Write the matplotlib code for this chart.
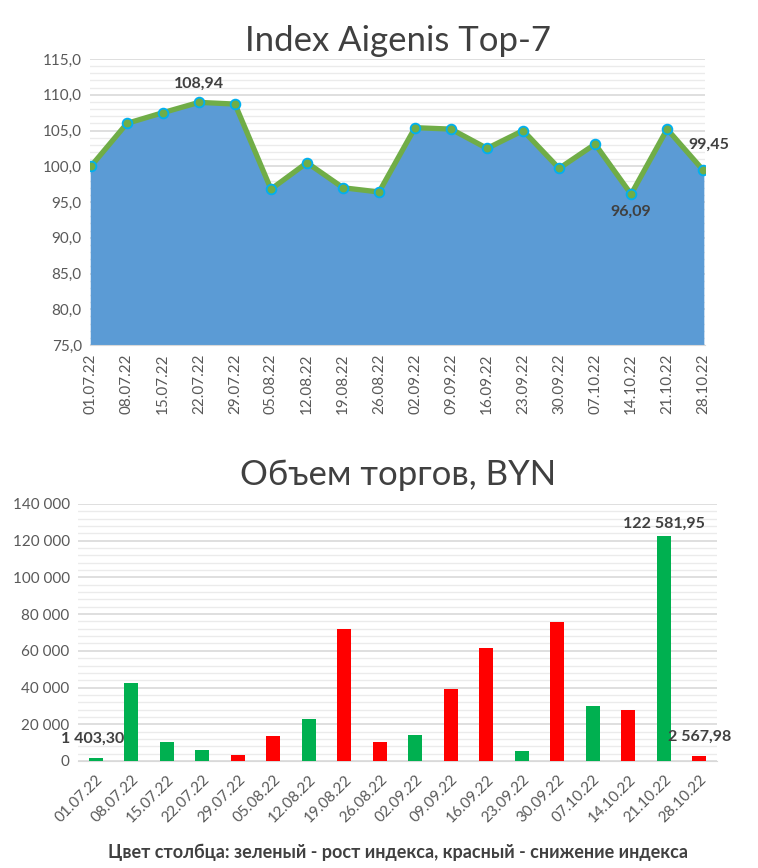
import matplotlib.pyplot as plt
from matplotlib.ticker import MultipleLocator, FuncFormatter

plt.rcParams['font.family'] = ['Lato', 'Open Sans', 'DejaVu Sans']

# Данные
dates = ['01.07.22', '08.07.22', '15.07.22', '22.07.22', '29.07.22', '05.08.22',
         '12.08.22', '19.08.22', '26.08.22', '02.09.22', '09.09.22', '16.09.22',
         '23.09.22', '30.09.22', '07.10.22', '14.10.22', '21.10.22', '28.10.22']
index_vals = [100.0, 106.0, 107.5, 108.94, 108.7, 96.8, 100.5, 97.0, 96.4,
              105.4, 105.2, 102.5, 105.0, 99.7, 103.1, 96.09, 105.2, 99.45]
volume = [1403.30, 42600, 10500, 6000, 3300, 13600, 22900, 72000, 10200,
          14200, 39100, 61300, 5500, 75700, 30200, 27700, 122581.95, 2567.98]
up = [1, 1, 1, 1, 0, 0, 1, 0, 0, 1, 0, 0, 1, 0, 1, 0, 1, 0]

tick_col = '#595959'
lab_col = '#404040'
x = list(range(len(dates)))

fig = plt.figure(figsize=(7.58, 8.68), dpi=100)

# Index chart
ax1 = fig.add_axes([0.119, 0.6025, 0.811, 0.3295])
ax1.fill_between(x, index_vals, 75, color='#5B9BD5', zorder=2)
ax1.plot(x, index_vals, color='#70AD47', lw=3.8, marker='o', ms=7,
         mfc='#70AD47', mec='#00B0F0', mew=1.3, zorder=3)
ax1.set_ylim(75, 115)
ax1.set_xlim(-0.02, 17.05)
ax1.yaxis.set_major_locator(MultipleLocator(5))
ax1.yaxis.set_minor_locator(MultipleLocator(1))
ax1.yaxis.set_major_formatter(FuncFormatter(lambda v, p: f'{v:.1f}'.replace('.', ',')))
ax1.grid(axis='y', which='major', color='#D9D9D9', lw=1.2, zorder=0)
ax1.grid(axis='y', which='minor', color='#EBEBEB', lw=1.0, zorder=0)
ax1.set_xticks(x)
ax1.set_xticklabels(dates, rotation=90, fontsize=11, color=tick_col)
ax1.tick_params(axis='y', labelsize=11, colors=tick_col, length=0, pad=6)
ax1.tick_params(axis='y', which='minor', length=0)
ax1.tick_params(axis='x', length=0, pad=6)
for s in ['top', 'right', 'left']:
    ax1.spines[s].set_visible(False)
ax1.spines['bottom'].set_color('#D9D9D9')
ax1.set_title('Index Aigenis Top-7', fontsize=25, color='#404040', pad=6)

ax1.text(3, 110.6, '108,94', ha='center', va='bottom', fontsize=11.5,
         fontweight='bold', color=lab_col)
ax1.text(15, 94.6, '96,09', ha='center', va='top', fontsize=11.5,
         fontweight='bold', color=lab_col)
ax1.text(17.15, 102.0, '99,45', ha='center', va='bottom', fontsize=11.5,
         fontweight='bold', color=lab_col)

# Volume chart
ax2 = fig.add_axes([0.103, 0.1233, 0.843, 0.2961])
colors = ['#00B050' if u else '#FF0000' for u in up]
ax2.bar(x, volume, width=0.4, color=colors, zorder=3)
ax2.set_ylim(0, 140000)
ax2.set_xlim(-0.5, 17.5)
ax2.yaxis.set_major_locator(MultipleLocator(20000))
ax2.yaxis.set_minor_locator(MultipleLocator(4000))
ax2.yaxis.set_major_formatter(FuncFormatter(lambda v, p: f'{int(v):,}'.replace(',', ' ')))
ax2.grid(axis='y', which='major', color='#D9D9D9', lw=1.2, zorder=0)
ax2.grid(axis='y', which='minor', color='#EBEBEB', lw=1.0, zorder=0)
ax2.set_xticks(x)
ax2.set_xticklabels(dates, rotation=45, ha='right', rotation_mode='anchor',
                    fontsize=11, color=tick_col)
ax2.tick_params(axis='y', labelsize=11, colors=tick_col, length=0, pad=6)
ax2.tick_params(axis='y', which='minor', length=0)
ax2.tick_params(axis='x', length=0, pad=8)
for s in ['top', 'right', 'left']:
    ax2.spines[s].set_visible(False)
ax2.spines['bottom'].set_color('#D9D9D9')
ax2.set_title('Объем торгов, BYN', fontsize=25, color='#404040', pad=14)

ax2.text(-0.1, 8500, '1 403,30', ha='center', va='bottom', fontsize=11.5,
         fontweight='bold', color=lab_col)
ax2.text(16, 125500, '122 581,95', ha='center', va='bottom', fontsize=11.5,
         fontweight='bold', color=lab_col)
ax2.text(17.0, 9500, '2 567,98', ha='center', va='bottom', fontsize=11.5,
         fontweight='bold', color=lab_col)

fig.text(0.525, 0.018, 'Цвет столбца: зеленый - рост индекса, красный - снижение индекса',
         ha='center', va='center', fontsize=13, fontweight='bold', color='#404040')

fig.savefig('out.png', dpi=100)
